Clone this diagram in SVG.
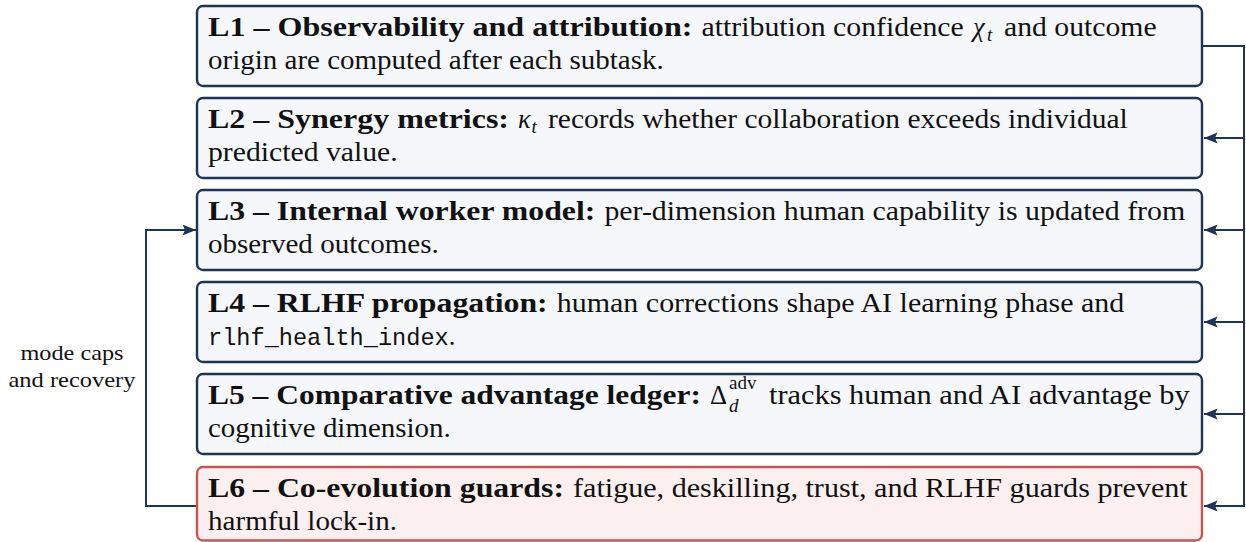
<svg xmlns="http://www.w3.org/2000/svg" width="1246" height="542" viewBox="0 0 1246 542">
<defs>
<style>
.box{fill:#f5f7fb;stroke:#1f3355;stroke-width:2.4}
.warn{fill:#fbefef;stroke:#c65652;stroke-width:2.4}
.t{font-family:"Liberation Serif",serif;font-size:26.5px;fill:#111}
.b{font-weight:bold}
.i{font-style:italic}
.s{font-size:19px}
.m{font-family:"Liberation Mono",monospace;font-size:23.6px;fill:#111}
.lbl{font-family:"Liberation Serif",serif;font-size:22px;fill:#111;text-anchor:middle}
.con{fill:none;stroke:#1f3355;stroke-width:2}
</style>
<marker id="ah" markerWidth="14" markerHeight="12" refX="13.5" refY="6" orient="auto" markerUnits="userSpaceOnUse">
<path d="M0,0.5 L13.5,6 L0,11.5 L2.5,6 Z" fill="#1f3355"/>
</marker>
</defs>
<rect width="1246" height="542" fill="#ffffff"/>

<g id="connectors">
<path class="con" d="M1203,46 H1244 V506 H1204" marker-end="url(#ah)"/>
<path class="con" d="M1244,138 H1204" marker-end="url(#ah)"/>
<path class="con" d="M1244,230 H1204" marker-end="url(#ah)"/>
<path class="con" d="M1244,322 H1204" marker-end="url(#ah)"/>
<path class="con" d="M1244,414 H1204" marker-end="url(#ah)"/>
<path class="con" d="M197,506 H146 V230 H196" marker-end="url(#ah)"/>
<text class="lbl" x="72" y="360" textLength="103" lengthAdjust="spacingAndGlyphs">mode caps</text>
<text class="lbl" x="72" y="387" textLength="127" lengthAdjust="spacingAndGlyphs">and recovery</text>
</g>

<g id="L1">
<rect class="box" x="197" y="6" width="1005" height="80" rx="6"/>
<text class="t b" x="208" y="36" textLength="484.4" lengthAdjust="spacingAndGlyphs">L1 – Observability and attribution:</text>
<text class="t" x="701.5" y="36" textLength="262.3" lengthAdjust="spacingAndGlyphs">attribution confidence</text>
<text class="t" x="973" y="36"><tspan class="i">χ</tspan><tspan class="i s" x="987" dy="5">t</tspan></text>
<text class="t" x="1004" y="36" textLength="152.6" lengthAdjust="spacingAndGlyphs">and outcome</text>
<text class="t" x="208" y="69" textLength="455.7" lengthAdjust="spacingAndGlyphs">origin are computed after each subtask.</text>
</g>

<g id="L2">
<rect class="box" x="197" y="98" width="1005" height="80" rx="6"/>
<text class="t b" x="208" y="128" textLength="301" lengthAdjust="spacingAndGlyphs">L2 – Synergy metrics:</text>
<text class="t" x="518" y="128"><tspan class="i">κ</tspan><tspan class="i s" x="531.5" dy="5">t</tspan></text>
<text class="t" x="548" y="128" textLength="579.7" lengthAdjust="spacingAndGlyphs">records whether collaboration exceeds individual</text>
<text class="t" x="208" y="161" textLength="189.7" lengthAdjust="spacingAndGlyphs">predicted value.</text>
</g>

<g id="L3">
<rect class="box" x="197" y="190" width="1005" height="80" rx="6"/>
<text class="t b" x="208" y="220" textLength="387.3" lengthAdjust="spacingAndGlyphs">L3 – Internal worker model:</text>
<text class="t" x="604.4" y="220" textLength="580.8" lengthAdjust="spacingAndGlyphs">per-dimension human capability is updated from</text>
<text class="t" x="208" y="253" textLength="230.8" lengthAdjust="spacingAndGlyphs">observed outcomes.</text>
</g>

<g id="L4">
<rect class="box" x="197" y="282" width="1005" height="80" rx="6"/>
<text class="t b" x="208" y="312" textLength="339.7" lengthAdjust="spacingAndGlyphs">L4 – RLHF propagation:</text>
<text class="t" x="556.8" y="312" textLength="567.4" lengthAdjust="spacingAndGlyphs">human corrections shape AI learning phase and</text>
<text class="t" x="208" y="345"><tspan class="m">rlhf_health_index</tspan>.</text>
</g>

<g id="L5">
<rect class="box" x="197" y="374" width="1005" height="80" rx="6"/>
<text class="t b" x="208" y="404" textLength="493" lengthAdjust="spacingAndGlyphs">L5 – Comparative advantage ledger:</text>
<text class="t" x="710" y="404">Δ<tspan class="i s" x="729" dy="8">d</tspan><tspan class="s" x="729" dy="-23">adv</tspan></text>
<text class="t" x="769" y="404" textLength="420.7" lengthAdjust="spacingAndGlyphs">tracks human and AI advantage by</text>
<text class="t" x="208" y="437" textLength="242.7" lengthAdjust="spacingAndGlyphs">cognitive dimension.</text>
</g>

<g id="L6">
<rect class="warn" x="197" y="467" width="1005" height="73.5" rx="6"/>
<text class="t b" x="208" y="497" textLength="356" lengthAdjust="spacingAndGlyphs">L6 – Co-evolution guards:</text>
<text class="t" x="573" y="497" textLength="614.7" lengthAdjust="spacingAndGlyphs">fatigue, deskilling, trust, and RLHF guards prevent</text>
<text class="t" x="208" y="530" textLength="189" lengthAdjust="spacingAndGlyphs">harmful lock-in.</text>
</g>
</svg>
